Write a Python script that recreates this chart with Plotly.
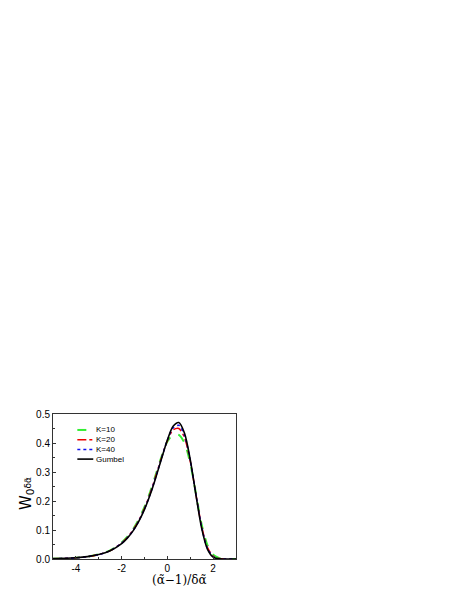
import plotly.graph_objects as go

# x positions in units of (alpha~ - 1)/delta alpha~
x_vals = [-5, -4.5, -4, -3.5, -3, -2.5, -2, -1.75, -1.5, -1.25, -1, -0.75, -0.5,
          -0.25, 0, 0.25, 0.5, 0.75, 1, 1.25, 1.5, 1.75, 2, 2.25, 2.5, 3]

k10 = [0.001, 0.002, 0.004, 0.008, 0.016, 0.030, 0.057, 0.077, 0.103, 0.137, 0.180,
       0.232, 0.293, 0.354, 0.405, 0.428, 0.428, 0.400, 0.330, 0.225, 0.118, 0.048,
       0.015, 0.004, 0.001, 0.0]
k20 = [0.001, 0.002, 0.004, 0.008, 0.0155, 0.029, 0.055, 0.074, 0.100, 0.133, 0.175,
       0.227, 0.288, 0.351, 0.408, 0.445, 0.450, 0.418, 0.337, 0.222, 0.112, 0.040,
       0.010, 0.002, 0.0, 0.0]
k40 = [0.001, 0.002, 0.004, 0.008, 0.0153, 0.0287, 0.054, 0.073, 0.098, 0.131, 0.173,
       0.224, 0.285, 0.349, 0.410, 0.452, 0.461, 0.426, 0.340, 0.221, 0.109, 0.037,
       0.008, 0.001, 0.0, 0.0]
gumbel = [0.0012, 0.0023, 0.0043, 0.0081, 0.0152, 0.0285, 0.0531, 0.0719, 0.0969,
          0.1295, 0.1709, 0.2222, 0.2822, 0.3477, 0.4106, 0.4577, 0.4707, 0.4336,
          0.3428, 0.2199, 0.1056, 0.0341, 0.0064, 0.0006, 0.0, 0.0]

series = [
    ('K=10', k10, dict(color='#33ee33', width=2, dash='dash')),
    ('K=20', k20, dict(color='#ee0000', width=1.5, dash='dashdot')),
    ('K=40', k40, dict(color='#1010ee', width=1.5, dash='dot')),
    ('Gumbel', gumbel, dict(color='black', width=1.6, dash='solid')),
]

fig = go.Figure()
for name, vals, line in series:
    fig.add_trace(go.Scatter(x=x_vals, y=vals, mode='lines', name=name, showlegend=False,
                             line=dict(shape='spline', smoothing=0.8, **line)))

# hand-drawn legend (plotly's own legend rows are too tall for this small figure)
legend_top = 0.89
legend_step = 0.067
for i, (name, vals, line) in enumerate(series):
    yy = legend_top - i * legend_step
    fig.add_shape(type='line', xref='paper', yref='paper', x0=0.133, x1=0.22, y0=yy, y1=yy,
                  line=dict(color=line['color'], width=line['width'], dash=line['dash']))
    fig.add_annotation(text=name, xref='paper', yref='paper', x=0.225, y=yy,
                       xanchor='left', yanchor='middle', showarrow=False,
                       font=dict(family='Arial', size=8, color='black'))

axis_style = dict(showline=True, linecolor='#333333', linewidth=1, mirror=True,
                  ticks='inside', ticklen=3, tickcolor='#333333', showgrid=False,
                  zeroline=False, tickfont=dict(family='Arial', size=10, color='black'))

# the page body adds an 8px margin, so the figure is 8px smaller than the window
fig.update_layout(
    width=455, height=591,
    margin=dict(l=45, r=227, t=406, b=40, autoexpand=False),
    plot_bgcolor='white', paper_bgcolor='white',
    showlegend=False,
    xaxis=dict(range=[-5, 3], tickvals=[-4, -2, 0, 2], ticktext=['-4', '-2', '0', '2'],
               minor=dict(ticks='inside', ticklen=2, dtick=1, tickcolor='#333333'),
               **axis_style),
    yaxis=dict(range=[0, 0.5], tickvals=[0, 0.1, 0.2, 0.3, 0.4, 0.5],
               ticktext=['0.0', '0.1', '0.2', '0.3', '0.4', '0.5'],
               minor=dict(ticks='inside', ticklen=2, dtick=0.05, tickcolor='#333333'),
               **axis_style),
)

fig.add_annotation(text='(α\u0303\u22121)/δα\u0303', x=0.55, xref='x', y=-0.08, yref='paper',
                   yanchor='top', showarrow=False,
                   font=dict(family='DejaVu Serif', size=12, color='black'))
fig.add_annotation(text='W<sub>0</sub><span style="font-size:9px">δα\u0303</span>',
                   x=-0.085, xref='paper', xanchor='right', y=0.455, yref='paper',
                   textangle=-90, showarrow=False,
                   font=dict(family='DejaVu Sans', size=15, color='black'))

fig.write_html('out.html')
